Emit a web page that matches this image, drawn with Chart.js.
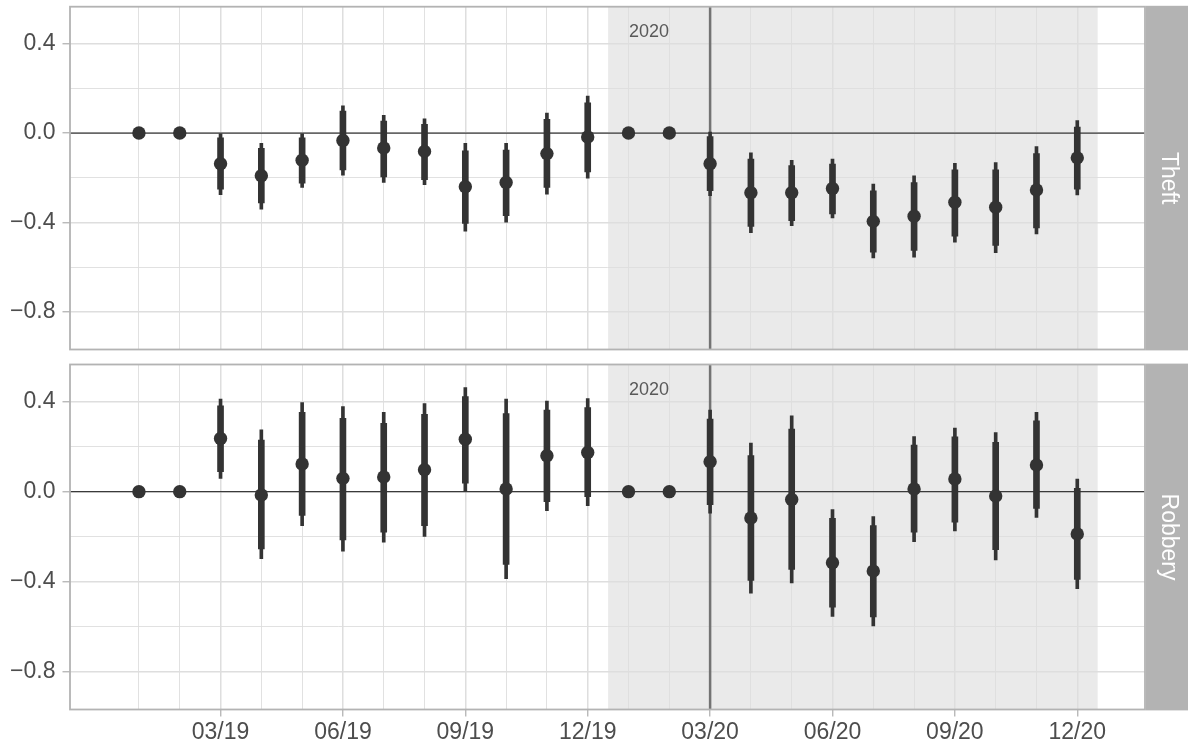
<!DOCTYPE html>
<html><head><meta charset="utf-8">
<script src="https://cdn.jsdelivr.net/npm/chart.js@4/dist/chart.umd.min.js"></script>
<style>
html,body{margin:0;padding:0;background:#fff;}
#wrap{position:relative;width:1188px;height:750px;background:#fff;}
canvas{position:absolute;left:0;top:0;}
</style></head><body>
<div id="wrap"><canvas id="c2" width="1188" height="750"></canvas><canvas id="c1" width="1188" height="750"></canvas></div>
<script>
// ---------- data ----------
const months = ['01/19','02/19','03/19','04/19','05/19','06/19','07/19','08/19','09/19','10/19','11/19','12/19',
                '01/20','02/20','03/20','04/20','05/20','06/20','07/20','08/20','09/20','10/20','11/20','12/20'];
const xTickLabels = ['','','03/19','','','06/19','','','09/19','','','12/19',
                     '','','03/20','','','06/20','','','09/20','','','12/20'];
const yTickValues = [-0.8,-0.6,-0.4,-0.2,0,0.2,0.4];
const yTickLabels = ['\u22120.8','','\u22120.4','','0.0','','0.4'];
const facetNames = ['Theft','Robbery'];
const yearLabel = '2020';

const theftEst  = [0,0,-0.137,-0.191,-0.122,-0.033,-0.067,-0.082,-0.240,-0.221,-0.092,-0.018,
                   0,0,-0.137,-0.267,-0.267,-0.248,-0.395,-0.372,-0.310,-0.332,-0.255,-0.111];
const theftLo90 = [null,null,-0.251,-0.313,-0.224,-0.165,-0.196,-0.209,-0.404,-0.369,-0.243,-0.174,
                   null,null,-0.258,-0.418,-0.392,-0.362,-0.533,-0.525,-0.461,-0.503,-0.424,-0.251];
const theftHi90 = [null,null,-0.021,-0.068,-0.021,0.098,0.053,0.039,-0.080,-0.076,0.061,0.135,
                   null,null,-0.016,-0.116,-0.145,-0.139,-0.258,-0.221,-0.165,-0.165,-0.092,0.027];
const theftLo95 = [null,null,-0.276,-0.340,-0.243,-0.188,-0.221,-0.231,-0.439,-0.399,-0.273,-0.202,
                   null,null,-0.280,-0.446,-0.414,-0.380,-0.559,-0.555,-0.488,-0.535,-0.451,-0.277];
const theftHi95 = [null,null,-0.003,-0.046,-0.003,0.122,0.079,0.064,-0.046,-0.046,0.089,0.165,
                   null,null,0.004,-0.088,-0.122,-0.116,-0.228,-0.191,-0.135,-0.132,-0.061,0.056];

const robEst  = [0,0,0.236,-0.015,0.123,0.059,0.065,0.097,0.233,0.012,0.160,0.174,
                 0,0,0.133,-0.117,-0.035,-0.316,-0.353,0.012,0.056,-0.019,0.118,-0.188];
const robLo90 = [null,null,0.089,-0.254,-0.106,-0.214,-0.180,-0.151,0.038,-0.323,-0.044,-0.022,
                 null,null,-0.058,-0.394,-0.346,-0.513,-0.557,-0.180,-0.136,-0.258,-0.074,-0.390];
const robHi90 = [null,null,0.381,0.229,0.352,0.326,0.304,0.344,0.422,0.347,0.363,0.374,
                 null,null,0.322,0.160,0.278,-0.118,-0.151,0.207,0.244,0.219,0.315,0.015];
const robLo95 = [null,null,0.059,-0.298,-0.151,-0.264,-0.225,-0.199,0.000,-0.387,-0.084,-0.062,
                 null,null,-0.096,-0.451,-0.406,-0.554,-0.597,-0.222,-0.174,-0.303,-0.115,-0.431];
const robHi95 = [null,null,0.411,0.275,0.396,0.378,0.352,0.391,0.462,0.411,0.403,0.414,
                 null,null,0.362,0.216,0.337,-0.080,-0.111,0.245,0.282,0.263,0.352,0.056];

// shaded period (month index), reference line and label position
const shadeFrom = 11.5, shadeTo = 23.5, vlineAt = 14;
const labelAt = {x: 12.5, y: 0.45};

// ---------- drawing ----------
Chart.defaults.font.family = "'Liberation Sans', Arial, Helvetica, sans-serif";
const INK = '#333333';
const xMin = -1.69, xMax = 24.66, yMin = -0.968, yMax = 0.565;

function makeFacet(id, name, est, lo90, hi90, lo95, hi95, showX, padTop, padBottom) {
  const idx = months.map((m, i) => i);
  const withCI = idx.filter(i => lo90[i] !== null);
  const deco = {
    id: 'deco_' + id,
    beforeDraw(chart) {
      const {ctx, chartArea: a, scales: {x}} = chart;
      const x0 = x.getPixelForValue(shadeFrom), x1 = x.getPixelForValue(shadeTo);
      ctx.save();
      ctx.fillStyle = '#EAEAEA';
      ctx.fillRect(x0, a.top, x1 - x0, a.bottom - a.top);
      ctx.restore();
    },
    beforeDatasetsDraw(chart) {
      const {ctx, chartArea: a, scales: {x, y}} = chart;
      ctx.save();
      const y0 = y.getPixelForValue(0);
      ctx.strokeStyle = '#3a3a3a'; ctx.lineWidth = 1.3;
      ctx.beginPath(); ctx.moveTo(a.left, y0); ctx.lineTo(a.right, y0); ctx.stroke();
      const xv = x.getPixelForValue(vlineAt);
      ctx.strokeStyle = '#737373'; ctx.lineWidth = 2.5;
      ctx.beginPath(); ctx.moveTo(xv, a.top); ctx.lineTo(xv, a.bottom); ctx.stroke();
      ctx.fillStyle = '#595959';
      ctx.font = "18px 'Liberation Sans', Arial, sans-serif";
      ctx.textAlign = 'center'; ctx.textBaseline = 'middle';
      ctx.fillText(yearLabel, x.getPixelForValue(labelAt.x), y.getPixelForValue(labelAt.y));
      ctx.restore();
    },
    afterDraw(chart) {
      const {ctx, chartArea: a} = chart;
      ctx.save();
      ctx.strokeStyle = '#B3B3B3'; ctx.lineWidth = 1.8;
      ctx.strokeRect(a.left, a.top, a.right - a.left, a.bottom - a.top);
      ctx.fillStyle = '#B3B3B3';
      const sx = a.right + 0.9;
      ctx.fillRect(sx, a.top - 0.9, chart.width - sx, a.bottom - a.top + 1.8);
      ctx.translate((sx + chart.width) / 2 + 1, (a.top + a.bottom) / 2);
      ctx.rotate(Math.PI / 2);
      ctx.fillStyle = '#FFFFFF';
      ctx.font = "23px 'Liberation Sans', Arial, sans-serif";
      ctx.textAlign = 'center'; ctx.textBaseline = 'middle';
      ctx.fillText(name, 0, 0);
      ctx.restore();
    }
  };
  const zeroPad = s => { s.paddingLeft = 0; s.paddingRight = 0; s.paddingTop = 0; s.paddingBottom = 0; };
  return new Chart(document.getElementById(id), {
    type: 'bar',
    data: {
      datasets: [
        {type: 'line', data: idx.map(i => ({x: i, y: est[i]})), showLine: false,
         pointRadius: 6.7, pointHoverRadius: 6.7, pointBackgroundColor: INK, pointBorderWidth: 0,
         borderColor: INK, backgroundColor: INK},
        {type: 'bar', data: withCI.map(i => ({x: i, y: [lo90[i], hi90[i]]})), barThickness: 6,
         grouped: false, backgroundColor: INK, borderWidth: 0},
        {type: 'bar', data: withCI.map(i => ({x: i, y: [lo95[i], hi95[i]]})), barThickness: 3,
         grouped: false, backgroundColor: INK, borderWidth: 0}
      ]
    },
    options: {
      responsive: false, animation: false, events: [],
      layout: {padding: {left: 0, right: 43, top: padTop, bottom: padBottom}},
      plugins: {legend: {display: false}, tooltip: {enabled: false}},
      scales: {
        x: {
          type: 'linear', min: xMin, max: xMax, offset: false,
          afterBuildTicks: s => { s.ticks = idx.map(i => ({value: i})); },
          afterFit: s => { s.height = showX ? 40.5 : 0; zeroPad(s); },
          grid: {offset: false, color: '#DEDEDE',
                 lineWidth: c => xTickLabels[c.index] ? 1.5 : 0.9,
                 drawTicks: showX, tickLength: 7, tickWidth: 1.3,
                 tickColor: c => xTickLabels[c.index] ? '#B3B3B3' : 'rgba(0,0,0,0)'},
          border: {display: false},
          ticks: {display: showX, autoSkip: false, maxRotation: 0, minRotation: 0, padding: 2.5,
                  color: '#4D4D4D', font: {size: 23}, callback: (v, i) => xTickLabels[i]}
        },
        y: {
          type: 'linear', min: yMin, max: yMax,
          afterBuildTicks: s => { s.ticks = yTickValues.map(v => ({value: v})); },
          afterFit: s => { s.width = 70; zeroPad(s); },
          grid: {color: '#DEDEDE',
                 lineWidth: c => yTickLabels[c.index] ? 1.5 : 0.9,
                 drawTicks: true, tickLength: 7.5, tickWidth: 1.3,
                 tickColor: c => yTickLabels[c.index] ? '#B3B3B3' : 'rgba(0,0,0,0)'},
          border: {display: false},
          ticks: {padding: 7, color: '#4D4D4D', font: {size: 23},
                  callback: (v, i) => yTickLabels[i]}
        }
      }
    },
    plugins: [deco]
  });
}

makeFacet('c1', facetNames[0], theftEst, theftLo90, theftHi90, theftLo95, theftHi95, false, 5, 400.5);
makeFacet('c2', facetNames[1], robEst, robLo90, robHi90, robLo95, robHi95, true, 364.5, 0);
</script>
</body></html>
